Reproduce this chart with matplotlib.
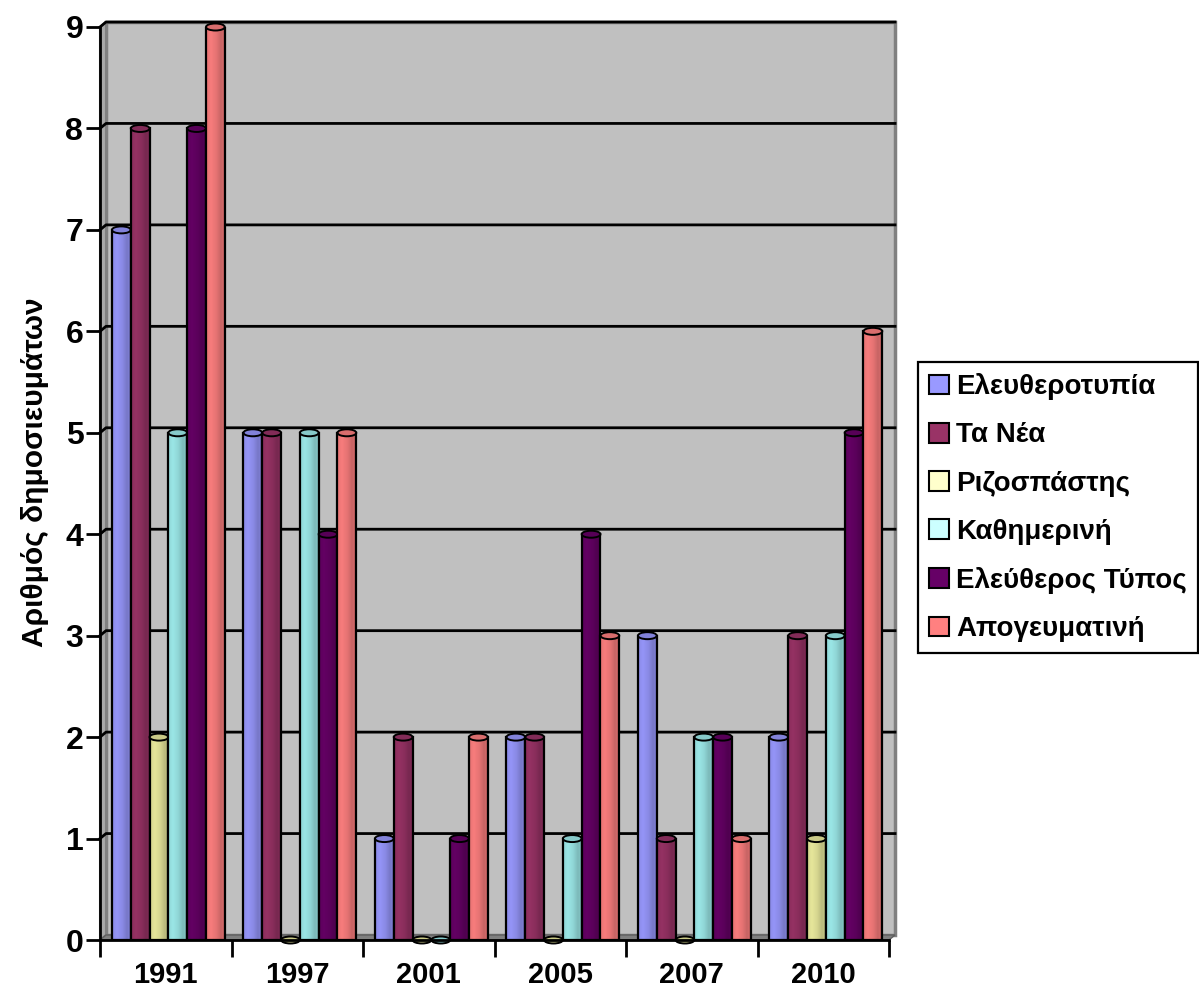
import numpy as np
import matplotlib
matplotlib.use("Agg")
from matplotlib import pyplot as plt
from matplotlib.patches import Rectangle, Polygon, Ellipse, Patch
from matplotlib.colors import to_rgb

years = ["1991", "1997", "2001", "2005", "2007", "2010"]
series = ["Ελευθεροτυπία", "Τα Νέα", "Ριζοσπάστης", "Καθημερινή",
          "Ελεύθερος Τύπος", "Απογευματινή"]
colors = ["#9999FF", "#993366", "#FFFFCC", "#CCFFFF", "#660066", "#FF8080"]

eleftherotypia = [7, 5, 1, 2, 3, 2]
ta_nea = [8, 5, 2, 2, 1, 3]
rizospastis = [2, 0, 0, 0, 0, 1]
kathimerini = [5, 5, 0, 1, 2, 3]
eleftheros_typos = [8, 4, 1, 4, 2, 5]
apogevmatini = [9, 5, 2, 3, 1, 6]
values = [eleftherotypia, ta_nea, rizospastis, kathimerini,
          eleftheros_typos, apogevmatini]

plt.rcParams['font.family'] = ['Liberation Sans', 'DejaVu Sans']
plt.rcParams['font.weight'] = 'bold'

W, H = 1199, 1000
fig = plt.figure(figsize=(W / 100, H / 100), dpi=100)
ax_l, ax_r, ax_b, ax_t = 100, 889, 60, 973
ax = fig.add_axes([ax_l / W, ax_b / H, (ax_r - ax_l) / W, (ax_t - ax_b) / H])
ax.patch.set_visible(False)
ax.set_xlim(-0.5, 5.5)
ax.set_ylim(0, 9)

# pixel -> data scale, for the fake 3D depth
ppx = (ax_r - ax_l) / 6.0
ppy = (ax_t - ax_b) / 9.0
DX = 6 / ppx
DY = 5 / ppy

# walls and floor
ax.add_patch(Rectangle((-0.5 + DX, DY), 6, 9, facecolor="#C0C0C0",
                       edgecolor="#808080", lw=2.5, zorder=0, clip_on=False))
ax.add_patch(Polygon([(-0.5, 0), (-0.5 + DX, DY), (-0.5 + DX, 9 + DY), (-0.5, 9)],
                     closed=True, facecolor="#A8A8A8", edgecolor="#808080",
                     lw=1.5, zorder=0.1, clip_on=False))
ax.add_patch(Polygon([(-0.5, 0), (5.5, 0), (5.5 + DX, DY), (-0.5 + DX, DY)],
                     closed=True, facecolor="#808080", edgecolor="#606060",
                     lw=1, zorder=0.2, clip_on=False))
for v in range(1, 10):
    ax.plot([-0.5, -0.5 + DX, 5.5 + DX], [v, v + DY, v + DY], color="black",
            lw=2, zorder=0.5, clip_on=False)

# cylinders
bw = 0.143
shift = 0.02
t = np.linspace(0, 1, 60)
profile = np.interp(t, [0, 0.25, 0.55, 0.8, 0.9, 1.0],
                    [0.9, 0.97, 0.9, 0.78, 0.82, 0.74])
ell_h = 7 / ppy
x = np.arange(len(years))
for s, (name, col) in enumerate(zip(series, colors)):
    base = np.array(to_rgb(col))
    if name == "Ριζοσπάστης":
        base = base * np.array([0.93, 0.93, 0.78])
    elif name == "Καθημερινή":
        base = base * np.array([0.78, 0.93, 0.93])
    grad = np.clip(profile[None, :, None] * base[None, None, :], 0, 1)
    xs = x - 2.5 * bw + s * bw + shift
    for xc, h in zip(xs, values[s]):
        z = 2 + s * 0.01
        if h > 0:
            ax.imshow(grad, extent=(xc - bw / 2, xc + bw / 2, 0, h),
                      aspect="auto", interpolation="bilinear", zorder=z)
            ax.add_patch(Rectangle((xc - bw / 2, 0), bw, h, fill=False,
                                   edgecolor="black", lw=1.6, zorder=z + 0.001))
        ax.add_patch(Ellipse((xc, h), bw, ell_h,
                             facecolor=np.clip(base * 0.85, 0, 1),
                             edgecolor="black", lw=1.4, zorder=z + 0.002,
                             clip_on=False))
ax.set_xlim(-0.5, 5.5)
ax.set_ylim(0, 9)

# axes
for side in ("top", "right"):
    ax.spines[side].set_visible(False)
ax.spines["left"].set_linewidth(2)
ax.spines["bottom"].set_linewidth(2)
ax.spines["left"].set_zorder(3)
ax.spines["bottom"].set_zorder(3)
ax.set_yticks(range(10))
ax.tick_params(axis="y", direction="out", length=10, width=2, pad=2,
               labelsize=23)
ax.set_xticks(x)
ax.set_xticklabels(years, fontsize=21, fontweight="bold")
ax.set_xticks(np.arange(-0.5, 6, 1), minor=True)
ax.tick_params(axis="x", which="major", length=0, pad=15)
ax.tick_params(axis="x", which="minor", direction="out", length=12, width=2)
for lab in ax.get_yticklabels():
    lab.set_fontweight("bold")

fig.text(35 / W, 1 - 472 / H, "Αριθμός δημοσιευμάτων", rotation=90,
         ha="center", va="center", fontsize=21.5, fontweight="bold")

handles = [Patch(facecolor=c, edgecolor="black", lw=1.5) for c in colors]
leg = fig.legend(handles, series, loc="upper left",
                 bbox_to_anchor=(918 / W, 1 - 362 / H), frameon=True,
                 fancybox=False, edgecolor="black", framealpha=1,
                 handlelength=0.72, handleheight=0.72, handletextpad=0.25,
                 labelspacing=0.8, borderpad=0.4, borderaxespad=0,
                 prop={"family": "Liberation Sans", "weight": "bold", "size": 20})
leg.get_frame().set_linewidth(1.6)

fig.savefig("out.png", dpi=100)
